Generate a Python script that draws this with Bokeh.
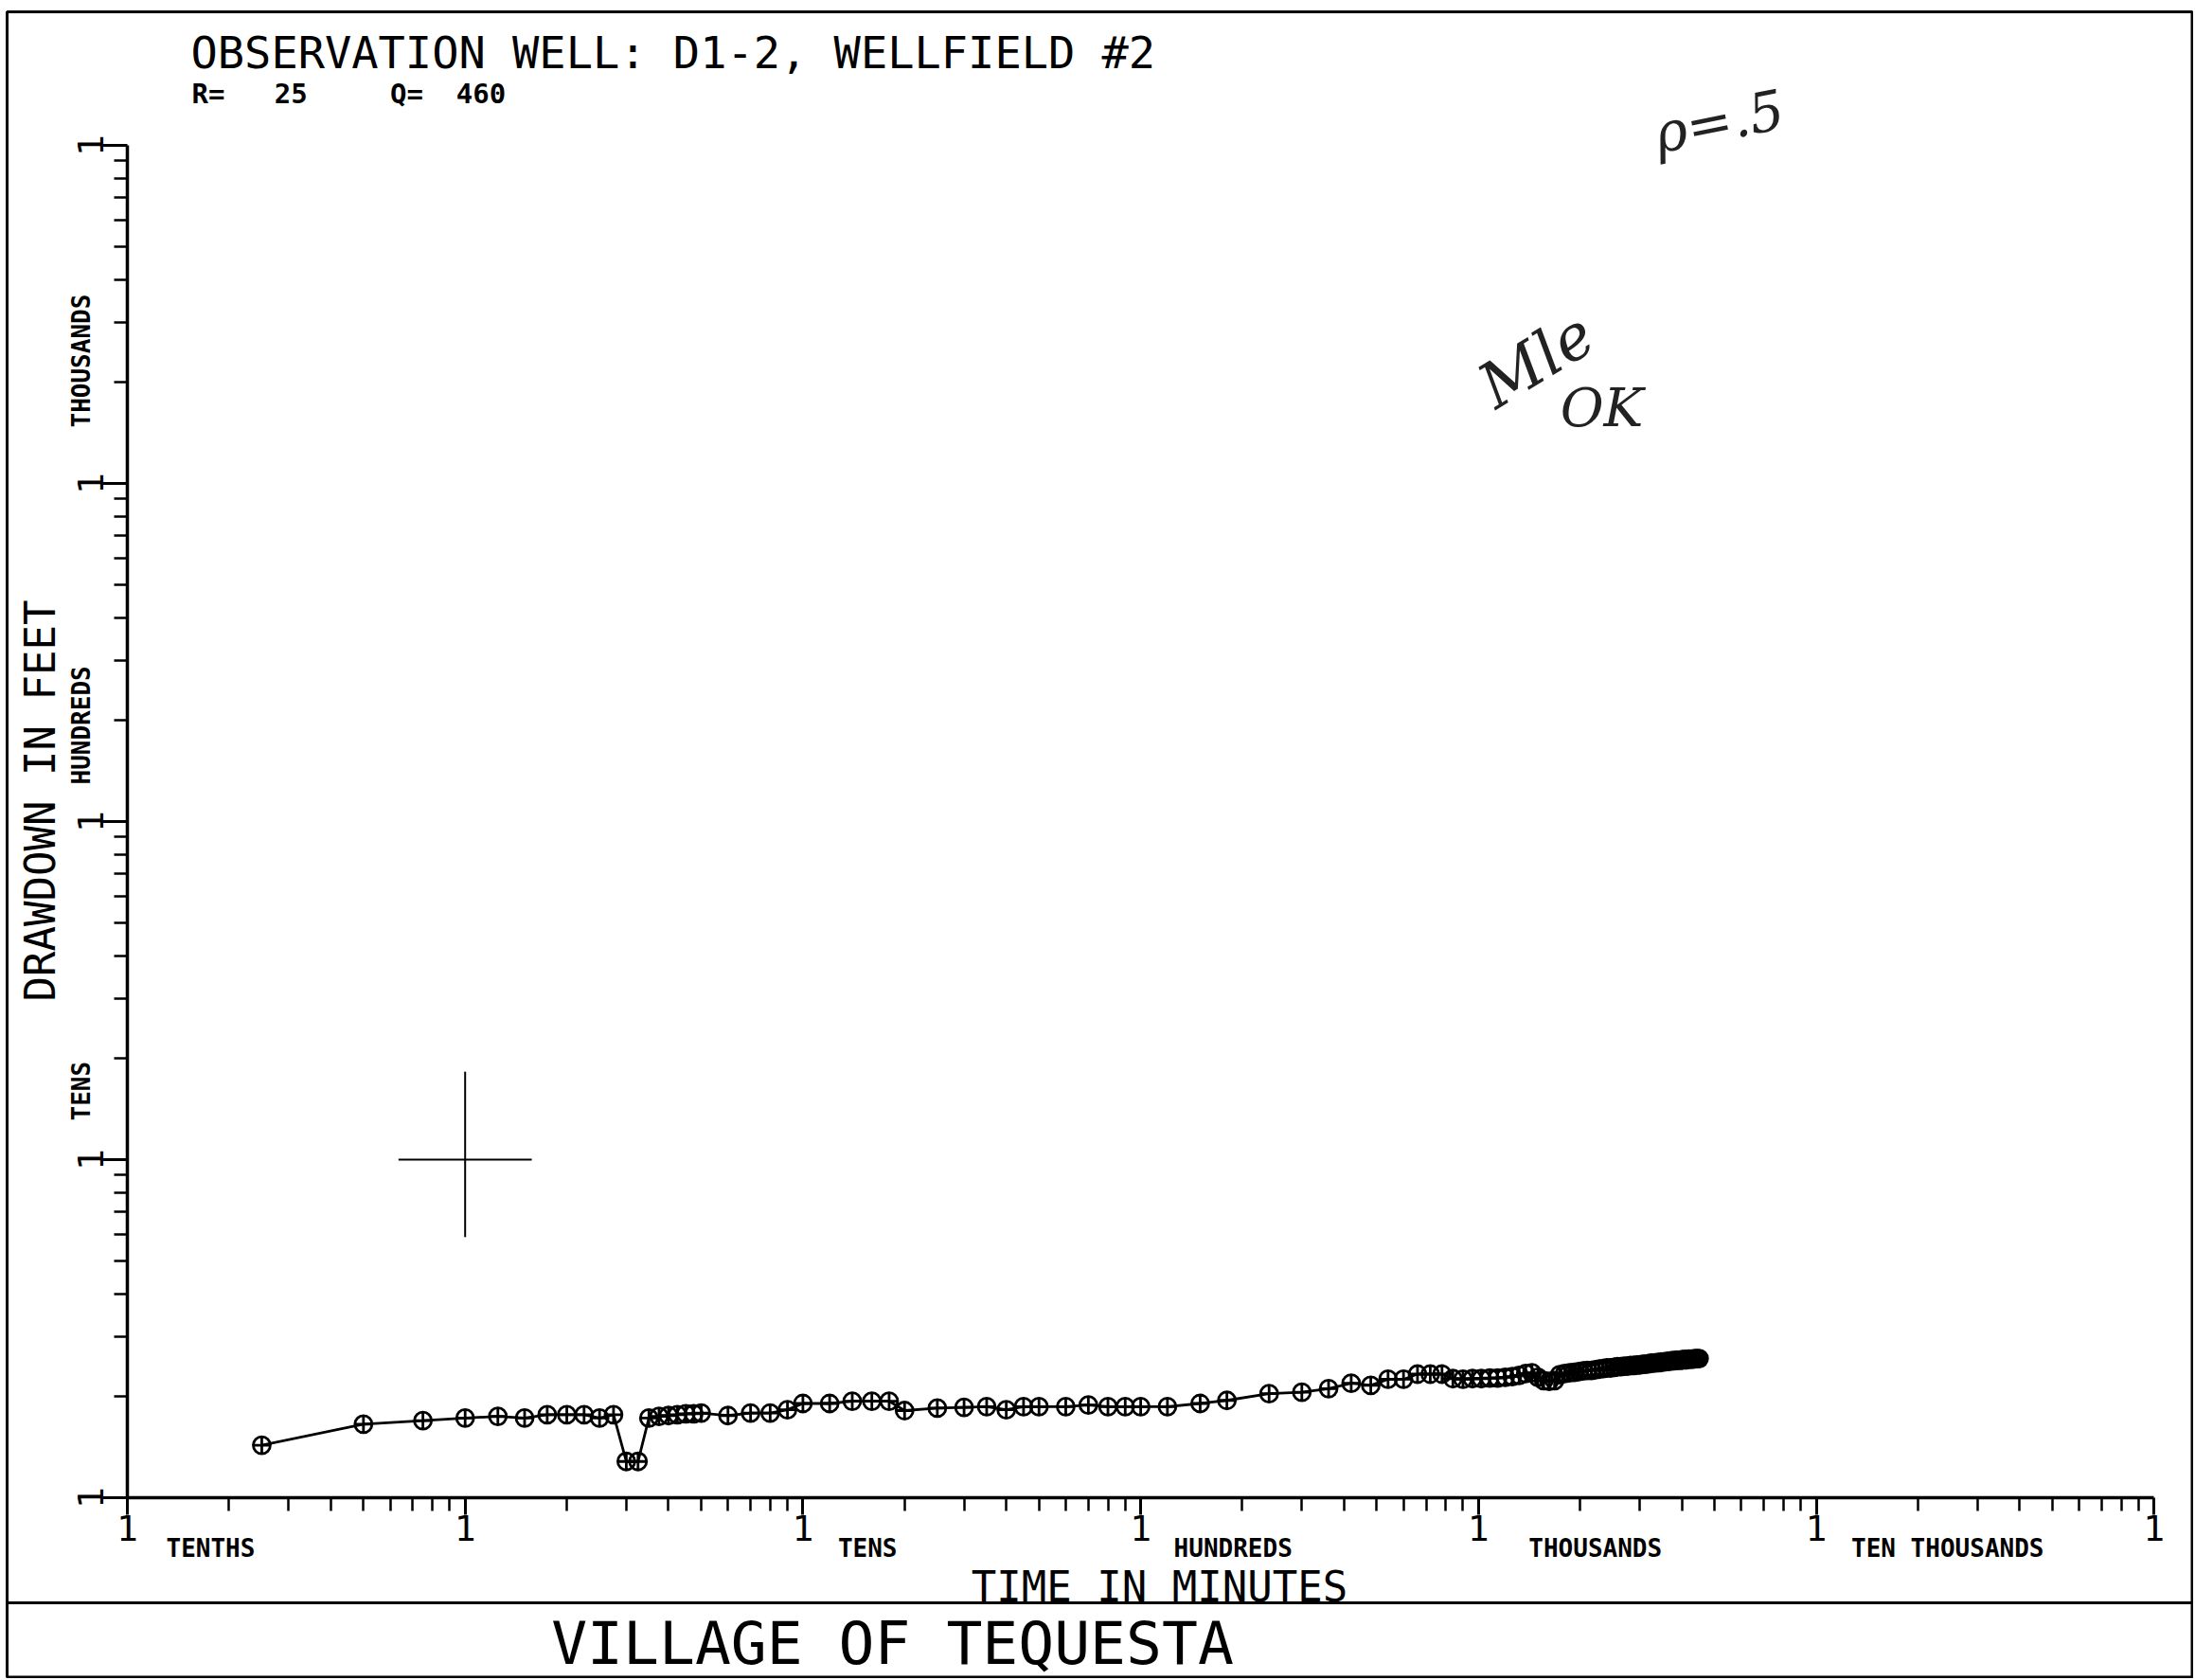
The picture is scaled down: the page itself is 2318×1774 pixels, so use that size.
import math
from bokeh.plotting import figure
from bokeh.models import (FixedTicker, CustomJSTickFormatter, Label,
                          PolyAnnotation, ColumnDataSource, Range1d)
from bokeh.embed import file_html
from bokeh.resources import INLINE

# ---------------- data ----------------
time_min = [0.25, 0.5, 0.75, 1.0, 1.25, 1.5, 1.75, 2.0, 2.25, 2.5, 2.75,
            3.0, 3.25, 3.5, 3.75, 4.0, 4.25, 4.5, 4.75, 5.0,
            6, 7, 8, 9, 10, 12, 14, 16, 18, 20, 25, 30, 35, 40, 45, 50,
            60, 70, 80, 90, 100, 120, 150, 180, 240, 300, 360, 420, 480,
            540, 600, 660, 720, 780, 840, 900, 960, 1020, 1080, 1140, 1200,
            1260, 1320, 1380, 1440, 1500, 1560, 1620, 1680,
            1740, 1800, 1860, 1920, 1980, 2040, 2100, 2160, 2220, 2280,
            2340, 2400, 2460, 2520, 2580, 2640, 2700, 2760, 2820, 2880,
            2940, 3000, 3060, 3120, 3180, 3240, 3300, 3360, 3420, 3480,
            3540, 3600, 3660, 3720, 3780, 3840, 3900, 3960, 4020, 4080,
            4140, 4200, 4260, 4320, 4380, 4440, 4500]
drawdown_ft = [1.43, 1.65, 1.69, 1.72, 1.74, 1.72, 1.76, 1.76, 1.76, 1.72, 1.76,
               1.28, 1.28, 1.72, 1.74, 1.75, 1.76, 1.77, 1.77, 1.78,
               1.75, 1.78, 1.78, 1.82, 1.90, 1.90, 1.93, 1.93, 1.93, 1.81,
               1.84, 1.85, 1.86, 1.82, 1.86, 1.86,
               1.86, 1.88, 1.86, 1.86, 1.86, 1.86, 1.90, 1.94, 2.03, 2.05,
               2.10, 2.18, 2.15, 2.24, 2.24, 2.32, 2.32, 2.32,
               2.25, 2.24, 2.25, 2.25, 2.26, 2.26, 2.27, 2.28, 2.30, 2.33,
               2.34, 2.27, 2.22, 2.21, 2.22,
               2.31, 2.33, 2.34, 2.35, 2.36, 2.37, 2.38, 2.38, 2.39, 2.40,
               2.41, 2.42, 2.42, 2.43, 2.44, 2.44, 2.45, 2.45, 2.46, 2.46,
               2.47, 2.47, 2.48, 2.48, 2.49, 2.50, 2.50, 2.51, 2.51, 2.52,
               2.52, 2.53, 2.53, 2.54, 2.54, 2.55, 2.55, 2.55, 2.56, 2.56,
               2.56, 2.57, 2.57, 2.57, 2.58, 2.58, 2.58]

# match-point cross (time in minutes, drawdown in feet)
match_time = [1.0]
match_drawdown = [10.0]
cross_time_arm = [0.635, 1.575]
cross_drawdown_arm = [5.9, 18.2]

# axis decades and their names
x_decades = [0.1, 1, 10, 100, 1000, 10000, 100000]
y_decades = [1, 10, 100, 1000, 10000]
x_names = ["TENTHS", "TENS", "HUNDREDS", "THOUSANDS", "TEN THOUSANDS"]
x_name_decade = [0.1, 10, 100, 1000, 10000]
y_names = ["TENS", "HUNDREDS", "THOUSANDS"]
y_name_decade = [10, 100, 1000]

NB = "\u00a0"
title_text = "OBSERVATION WELL: D1-2, WELLFIELD #2"
sub_text = "R=" + NB * 3 + "25" + NB * 5 + "Q=" + NB * 2 + "460"
x_title = "TIME IN MINUTES"
y_title = "DRAWDOWN IN FEET"
footer = "VILLAGE OF TEQUESTA"

# ---------------- layout ----------------
W, H = 2316, 1772
AX_X, AX_Y = 134, 1581        # canvas px of the axes origin (0.1 min, 1 ft)
DEC_X, DEC_Y = 356.7, 357.0   # canvas px per decade
MONO = "DejaVu Sans Mono"

x_range = Range1d(x_decades[0] * 10 ** (-AX_X / DEC_X),
                  x_decades[0] * 10 ** ((W - AX_X) / DEC_X))
y_range = Range1d(y_decades[0] * 10 ** (-(H - AX_Y) / DEC_Y),
                  y_decades[0] * 10 ** (AX_Y / DEC_Y))

p = figure(width=W, height=H, x_axis_type="log", y_axis_type="log",
           x_range=x_range, y_range=y_range,
           output_backend="svg", toolbar_location=None, min_border=0)
if p.title is not None:
    p.title.visible = False
p.outline_line_color = None
p.xgrid.visible = False
p.ygrid.visible = False
p.background_fill_color = "white"
p.border_fill_color = "white"

minor_x = [m * d for d in x_decades[:-1] for m in range(2, 10)]
minor_y = [m * d for d in y_decades[:-1] for m in range(2, 10)]
p.xaxis.ticker = FixedTicker(ticks=x_decades, minor_ticks=minor_x)
p.yaxis.ticker = FixedTicker(ticks=y_decades, minor_ticks=minor_y)
p.xaxis.formatter = CustomJSTickFormatter(code="return '1';")
p.yaxis.formatter = CustomJSTickFormatter(code="return '1';")
p.xaxis.fixed_location = y_decades[0]
p.yaxis.fixed_location = x_decades[0]
p.xaxis.bounds = (x_decades[0], x_decades[-1])
p.yaxis.bounds = (y_decades[0], y_decades[-1])

for ax in (p.xaxis[0], p.yaxis[0]):
    ax.axis_line_width = 3.5
    ax.axis_line_color = "black"
    ax.major_tick_line_width = 3
    ax.minor_tick_line_width = 2.5
    ax.major_tick_line_color = "black"
    ax.minor_tick_line_color = "black"
    ax.major_tick_in = 0
    ax.minor_tick_in = 0
    ax.minor_tick_out = 14
    ax.major_label_text_font = MONO
    ax.major_label_text_font_size = "38px"
    ax.major_label_text_color = "black"
    ax.major_label_standoff = 0
p.xaxis.major_tick_out = 18
p.yaxis.major_tick_out = 26
p.yaxis.major_label_orientation = "vertical"

# ---------------- data marks ----------------
src = ColumnDataSource(dict(t=time_min, s=drawdown_ft))
p.line("t", "s", source=src, line_color="black", line_width=2.8)
p.scatter("t", "s", source=src, marker="circle_cross", size=18,
          line_color="black", line_width=2.8, fill_color=None)

p.segment(x0=[cross_time_arm[0], match_time[0]],
          y0=[match_drawdown[0], cross_drawdown_arm[0]],
          x1=[cross_time_arm[1], match_time[0]],
          y1=[match_drawdown[0], cross_drawdown_arm[1]],
          line_color="black", line_width=2)


# ---------------- texts (canvas px, origin top-left; y = text middle) ----
def lab(text, fx, fy, size, style="normal", align="left",
        angle=0.0, font=MONO, color="black"):
    p.add_layout(Label(x=fx, y=H - fy, x_units="screen",
                       y_units="screen", text=text, text_font=font,
                       text_font_size=f"{size}px", text_font_style=style,
                       text_align=align, text_baseline="middle",
                       angle=angle, text_color=color))


lab(title_text, 201, 55, 47)
lab(sub_text, 202, 98, 29, style="bold")
lab(y_title, 42, 845, 44, align="center", angle=math.pi / 2)
lab(x_title, 1224, 1675, 44, align="center")
lab(footer, 942, 1735, 63, align="center")

x_name_offsets = [41, 37, 35, 53, 37]
for name, dec, off in zip(x_names, x_name_decade, x_name_offsets):
    p.add_layout(Label(x=dec, x_units="data", y=H - 1634, y_units="screen",
                       x_offset=off, text=name, text_font=MONO,
                       text_font_size="26px", text_font_style="bold",
                       text_color="black",
                       text_baseline="middle", text_align="left"))

y_name_offsets = [41, 39, 59]
for name, dec, off in zip(y_names, y_name_decade, y_name_offsets):
    p.add_layout(Label(x=85, x_units="screen", y=dec, y_units="data",
                       y_offset=off, text=name, text_font=MONO,
                       text_font_size="26px", text_font_style="bold",
                       text_color="black",
                       angle=math.pi / 2, text_align="left",
                       text_baseline="middle"))

# handwritten notes
lab("\u03c1=.5", 1815, 128, 58, style="italic", align="center",
    font="DejaVu Serif", angle=0.2, color="#222222")
lab("Mle", 1622, 380, 66, style="italic", align="center",
    font="DejaVu Serif", angle=0.55, color="#222222")
lab("OK", 1691, 430, 56, style="italic", align="center",
    font="DejaVu Serif", color="#222222")

# ---------------- frame and separator ----------------
bx0, bx1, by0, by1 = 7, W - 1.5, 12, H - 1.5
p.add_layout(PolyAnnotation(xs=[bx0, bx1, bx1, bx0],
                            ys=[H - by0, H - by0, H - by1, H - by1],
                            xs_units="screen", ys_units="screen",
                            fill_color=None, fill_alpha=0,
                            line_color="black", line_alpha=1.0,
                            line_width=3))
sep_y = 1692
p.add_layout(PolyAnnotation(xs=[bx0, bx1], ys=[H - sep_y, H - sep_y],
                            xs_units="screen", ys_units="screen",
                            fill_color=None, fill_alpha=0,
                            line_color="black", line_alpha=1.0,
                            line_width=3))

open("out.html", "w").write(file_html(p, INLINE))
